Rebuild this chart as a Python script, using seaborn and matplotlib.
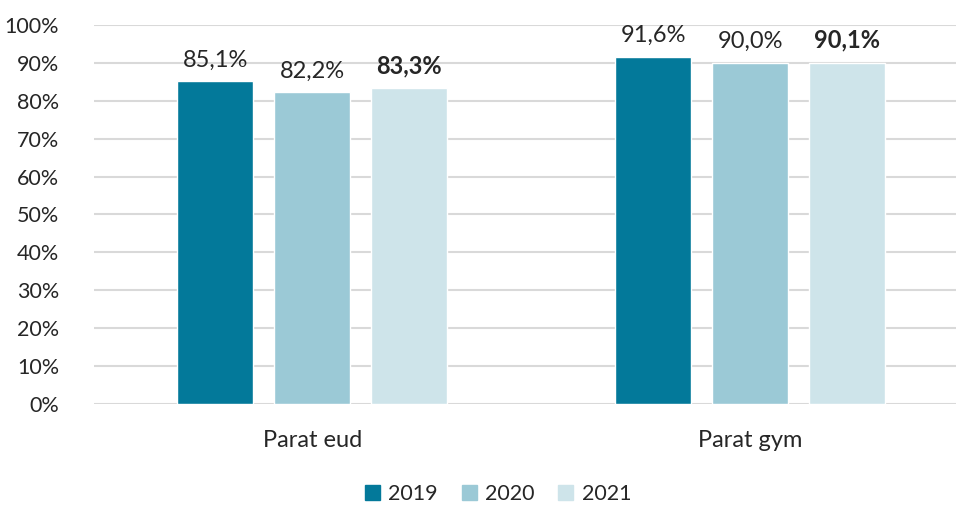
import matplotlib
matplotlib.use('Agg')

import matplotlib.pyplot as plt
import matplotlib.patches as mpatches
import seaborn as sns
import pandas as pd
from matplotlib.ticker import PercentFormatter

# data
categories = ['Parat eud', 'Parat gym']
years = ['2019', '2020', '2021']
values_2019 = [0.851, 0.916]
values_2020 = [0.822, 0.900]
values_2021 = [0.833, 0.901]
colors = ['#03799A', '#9BC9D6', '#CEE4EA']

sns.set_style('white')
plt.rcParams['font.family'] = ['Lato', 'DejaVu Sans']
plt.rcParams['text.color'] = '#262626'

df = pd.DataFrame({
    'kategori': categories * 3,
    'aar': [y for y in years for _ in categories],
    'andel': values_2019 + values_2020 + values_2021,
})

fig = plt.figure(figsize=(9.56, 5.05), dpi=100)
ax = fig.add_axes([94 / 956, 0.2, 1 - 94 / 956, 0.7505])

sns.barplot(data=df, x='kategori', y='andel', hue='aar', hue_order=years,
            palette=colors, width=0.664, gap=0.22, ax=ax, legend=False,
            saturation=1)

for cont, year in zip(ax.containers, years):
    labels = [f'{v * 100:.1f}%'.replace('.', ',') for v in cont.datavalues]
    weight = 'bold' if year == '2021' else 'normal'
    ax.bar_label(cont, labels=labels, padding=8, fontsize=17, fontweight=weight,
                 color='#262626')

ax.set_ylim(0, 1.0)
ax.set_xlim(-0.498, 1.47)
ax.yaxis.set_major_locator(plt.MultipleLocator(0.1))
ax.yaxis.set_major_formatter(PercentFormatter(1.0, decimals=0))
ax.grid(True, axis='y', color='#D9D9D9', lw=1.5)
ax.set_axisbelow(True)
sns.despine(ax=ax, left=True, bottom=True, right=True, top=True)
ax.tick_params(axis='y', length=0, pad=25, labelsize=15.5, labelcolor='#262626')
ax.tick_params(axis='x', length=0, pad=19, labelsize=17, labelcolor='#262626')
ax.set_xlabel('')
ax.set_ylabel('')

handles = [mpatches.Patch(color=c, label=y) for c, y in zip(colors, years)]
fig.legend(handles=handles, loc='center', bbox_to_anchor=(0.521, 0.022), ncol=3,
           frameon=False, fontsize=15.5, handlelength=0.7, handleheight=0.7,
           handletextpad=0.4, columnspacing=1.1)

plt.savefig('out.png', dpi=100)
plt.close()
